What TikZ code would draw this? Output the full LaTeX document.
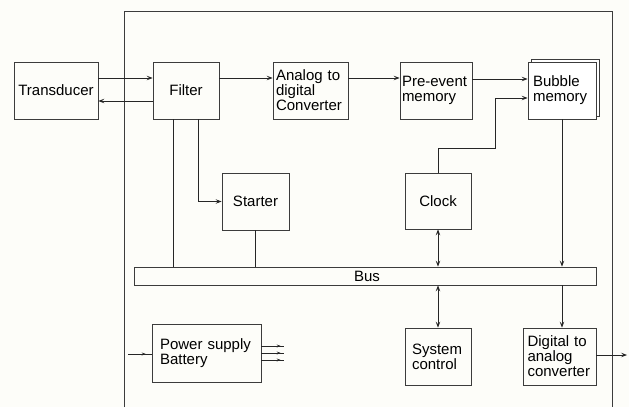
\documentclass[tikz,border=0pt]{standalone}
\usepackage{fontspec}
\setmainfont{Liberation Sans}
\usetikzlibrary{arrows.meta,decorations.markings}
\definecolor{bgc}{RGB}{253,253,249}
\definecolor{ln}{RGB}{60,60,60}
\begin{document}
\begin{tikzpicture}[x=1pt,y=-1pt,
  box/.style={draw=ln,line width=0.8pt,inner sep=0pt,font=\fontsize{15}{15}\selectfont},
  lbox/.style={box,align=left},
  conn/.style={draw=black!85,line width=0.7pt},
  >={Stealth[length=6pt,width=4.5pt,inset=2.5pt]},
  tiny/.style={postaction={decorate},decoration={markings,mark=at position #1 with {\arrow{Stealth[length=4pt,width=3pt,inset=1.5pt]}}}}
]
\fill[bgc] (0,0) rectangle (629,407);
\useasboundingbox (0,0) rectangle (629,407);
% outer frame
\draw[ln,line width=0.8pt] (124,407) -- (124,11) -- (612,11) -- (612,407);
% boxes
\node[box,minimum width=84pt,minimum height=57pt] (trans) at (56,90.5) {Transducer};
\node[box,minimum width=66pt,minimum height=57pt] (filter) at (186,90.5) {Filter};
\node[lbox,minimum width=75pt,minimum height=57pt,text width=69pt] (adc) at (310.5,90.5) {Analog to\\digital\\Converter};
\node[lbox,minimum width=72pt,minimum height=57pt,text width=68pt] (pre) at (436,90.5) {Pre-event\\memory};
\draw[ln,line width=0.8pt,fill=white] (531,59) rectangle (599,116);
\node[lbox,fill=white,minimum width=68pt,minimum height=57pt,text width=58pt] (bubble) at (562,90.5) {Bubble\\memory};
\node[box,minimum width=67pt,minimum height=57pt] (starter) at (255.5,201.5) {Starter};
\node[box,minimum width=66pt,minimum height=56pt] (clock) at (438,201) {Clock};
\node[box,minimum width=462pt,minimum height=18pt] (bus) at (365,276) {};
\node[font=\fontsize{15}{15}\selectfont] (buslbl) at (367,276) {Bus};
\node[lbox,minimum width=66pt,minimum height=57pt,text width=52pt] (sys) at (438,356.5) {System\\control};
\node[lbox,minimum width=73pt,minimum height=57pt,text width=64pt] (dac) at (559.5,356.5) {Digital to\\analog\\converter};
\node[lbox,minimum width=109pt,minimum height=58pt,text width=93pt] (power) at (206.5,353) {Power supply\\Battery};
\coordinate (out) at (627,355);
\coordinate (pin) at (128,354);
% connectors
\draw[conn,->] (trans.east |- 0,78) -- (filter.west |- 0,78);
\draw[conn,->] (filter.west |- 0,101) -- (trans.east |- 0,101);
\draw[conn,->] (filter.east |- 0,78) -- (adc.west |- 0,78);
\draw[conn,->] (adc.east |- 0,78) -- (pre.west |- 0,78);
\draw[conn,->] (pre.east |- 0,79) -- (bubble.west |- 0,79);
\draw[conn,->] (clock.north) -- (clock.north |- 0,148) -| (495,98) -- (bubble.west |- 0,98);
\draw[conn] (filter.south -| 173,0) -- (173,0 |- bus.north);
\draw[conn,->] (filter.south -| 198,0) |- (starter.west);
\draw[conn] (starter.south) -- (starter.south |- bus.north);
\draw[conn,<->] (clock.south) -- (clock.south |- bus.north);
\draw[conn,<->] (sys.north |- bus.south) -- (sys.north);
\draw[conn,->] (bubble.south) -- (bubble.south |- bus.north);
\draw[conn,->] (562,0 |- bus.south) -- (562,0 |- dac.north);
\draw[conn,->] (dac.east |- out) -- (out);
\draw[conn,tiny=0.75] (pin) -- (power.west |- pin);
\draw[conn,tiny=0.85] (power.east |- 0,346) -- (284,346);
\draw[conn,tiny=0.85] (power.east |- 0,353) -- (284,353);
\draw[conn,tiny=0.85] (power.east |- 0,360) -- (284,360);
\end{tikzpicture}
\end{document}
